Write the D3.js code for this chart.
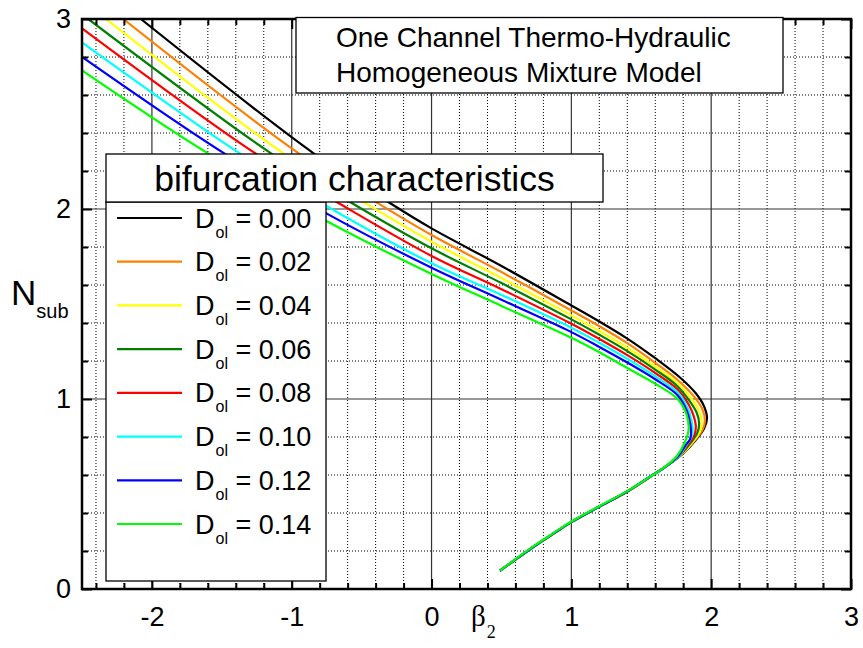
<!DOCTYPE html>
<html><head><meta charset="utf-8">
<script src="https://cdn.jsdelivr.net/npm/d3@7"></script>
<style>
body{margin:0;background:#fff;}
svg{display:block;font-family:"Liberation Sans",Arial,Helvetica,sans-serif;}
</style></head><body>
<svg id="chart" width="863" height="648"></svg>
<script>
// ---------- data ----------
const xTickValues = [-2, -1, 0, 1, 2, 3];
const yTickValues = [0, 1, 2, 3];
const xDomain = [-2.5, 3];
const yDomain = [0, 3];
const titleLines = ["One Channel Thermo-Hydraulic", "Homogeneous Mixture Model"];
const legendTitle = "bifurcation characteristics";
const dolLabels = ["0.00", "0.02", "0.04", "0.06", "0.08", "0.10", "0.12", "0.14"];
const seriesColors = ["#000000", "#ff8000", "#ffff00", "#008000", "#ff0000", "#00ffff", "#0000ff", "#00ff00"];

// [beta2, Nsub] points for each D_ol
const dol000 = [[-2.079,3.0],[-0.836,2.289],[-0.312,2.038],[0,1.898],[0.5,1.70],[1.0,1.492],[1.2,1.408],[1.4,1.318],[1.605,1.212],[1.771,1.117],[1.89,1.03],[1.95,0.96],[1.97,0.898],[1.95,0.846],[1.89,0.784],[1.80,0.714],[1.69,0.652],[1.58,0.598],[1.4,0.513],[1.2,0.433],[1.0,0.352],[0.88,0.295],[0.75,0.232],[0.62,0.165],[0.49,0.097]];
const dol002 = [[-2.205,3.0],[-0.943,2.289],[-0.40,2.038],[0,1.863],[0.5,1.668],[1.0,1.466],[1.2,1.383],[1.4,1.294],[1.6,1.19],[1.76,1.10],[1.875,1.015],[1.935,0.95],[1.955,0.89],[1.94,0.84],[1.88,0.78],[1.795,0.712],[1.685,0.65],[1.575,0.596],[1.4,0.513],[1.2,0.433],[1.0,0.352],[0.88,0.295],[0.75,0.232],[0.62,0.165],[0.49,0.097]];
const dol004 = [[-2.329,3.0],[-1.05,2.289],[-0.49,2.038],[0,1.828],[0.5,1.637],[1.0,1.440],[1.2,1.358],[1.4,1.270],[1.6,1.170],[1.755,1.085],[1.86,1.0],[1.915,0.935],[1.933,0.88],[1.92,0.83],[1.87,0.775],[1.79,0.71],[1.68,0.648],[1.572,0.595],[1.4,0.513],[1.2,0.433],[1.0,0.352],[0.88,0.295],[0.75,0.232],[0.62,0.165],[0.49,0.097]];
const dol006 = [[-2.455,3.0],[-1.14,2.289],[-0.586,2.038],[0,1.793],[0.5,1.61],[1.0,1.419],[1.2,1.338],[1.4,1.252],[1.6,1.155],[1.755,1.07],[1.85,0.985],[1.898,0.925],[1.914,0.87],[1.90,0.82],[1.855,0.77],[1.78,0.706],[1.68,0.647],[1.57,0.594],[1.4,0.513],[1.2,0.433],[1.0,0.352],[0.88,0.295],[0.75,0.232],[0.62,0.165],[0.49,0.097]];
const dol008 = [[-2.5,2.951],[-1.252,2.289],[-0.681,2.038],[0,1.753],[0.5,1.578],[1.0,1.396],[1.2,1.316],[1.4,1.231],[1.6,1.137],[1.76,1.05],[1.84,0.97],[1.875,0.91],[1.89,0.86],[1.88,0.81],[1.84,0.765],[1.775,0.703],[1.675,0.645],[1.568,0.593],[1.4,0.513],[1.2,0.434],[1.0,0.353],[0.88,0.296],[0.75,0.233],[0.62,0.166],[0.49,0.097]];
const dol010 = [[-2.5,2.877],[-1.364,2.289],[-0.752,2.016],[0,1.714],[0.5,1.548],[1.0,1.375],[1.2,1.296],[1.4,1.212],[1.6,1.12],[1.76,1.035],[1.83,0.955],[1.855,0.9],[1.867,0.85],[1.86,0.80],[1.825,0.76],[1.77,0.70],[1.673,0.643],[1.565,0.592],[1.4,0.514],[1.2,0.434],[1.0,0.353],[0.88,0.296],[0.75,0.233],[0.62,0.166],[0.49,0.097]];
const dol012 = [[-2.5,2.801],[-1.474,2.289],[-0.752,1.977],[0,1.691],[0.5,1.522],[1.0,1.352],[1.2,1.274],[1.4,1.192],[1.6,1.104],[1.76,1.02],[1.825,0.94],[1.845,0.89],[1.855,0.84],[1.85,0.79],[1.815,0.755],[1.765,0.70],[1.67,0.642],[1.563,0.592],[1.4,0.514],[1.2,0.434],[1.0,0.353],[0.88,0.296],[0.75,0.233],[0.62,0.166],[0.49,0.097]];
const dol014 = [[-2.5,2.730],[-1.59,2.289],[-0.752,1.937],[0,1.658],[0.5,1.49],[1.0,1.322],[1.2,1.246],[1.4,1.163],[1.6,1.08],[1.76,1.0],[1.825,0.915],[1.838,0.835],[1.81,0.77],[1.755,0.70],[1.665,0.64],[1.56,0.59],[1.4,0.515],[1.2,0.436],[1.0,0.355],[0.88,0.298],[0.75,0.235],[0.62,0.168],[0.49,0.097]];
const allSeries = [dol000, dol002, dol004, dol006, dol008, dol010, dol012, dol014];

// ---------- layout ----------
const L = 82, R = 851, T = 19, B = 589;
const svg = d3.select("#chart");
const x = d3.scaleLinear().domain(xDomain).range([L, R]);
const y = d3.scaleLinear().domain(yDomain).range([B, T]);

const xAll = d3.range(-24, 31, 2).map(v => +(v / 10).toFixed(1));
const yAll = d3.range(0, 31, 2).map(v => +(v / 10).toFixed(1));
const isInt = v => Math.abs(v - Math.round(v)) < 1e-9;
const xMinor = xAll.filter(v => !isInt(v));
const yMinor = yAll.filter(v => !isInt(v));
const xMajorInner = xTickValues.filter(v => v > xDomain[0] && v < xDomain[1]);
const yMajorInner = yTickValues.filter(v => v > yDomain[0] && v < yDomain[1]);

// ---------- grid ----------
const grid = svg.append("g");
grid.selectAll("line.vminor").data(xMinor).join("line")
  .attr("x1", d => x(d)).attr("x2", d => x(d)).attr("y1", T).attr("y2", B)
  .attr("stroke", "#000").attr("stroke-width", 1).attr("stroke-dasharray", "1,2");
grid.selectAll("line.hminor").data(yMinor).join("line")
  .attr("y1", d => y(d)).attr("y2", d => y(d)).attr("x1", L).attr("x2", R)
  .attr("stroke", "#000").attr("stroke-width", 1).attr("stroke-dasharray", "1,2");
grid.selectAll("line.vmajor").data(xMajorInner).join("line")
  .attr("x1", d => x(d)).attr("x2", d => x(d)).attr("y1", T).attr("y2", B)
  .attr("stroke", "#333").attr("stroke-width", 1.2);
grid.selectAll("line.hmajor").data(yMajorInner).join("line")
  .attr("y1", d => y(d)).attr("y2", d => y(d)).attr("x1", L).attr("x2", R)
  .attr("stroke", "#333").attr("stroke-width", 1.2);

// ---------- curves ----------
svg.append("clipPath").attr("id", "plotclip").append("rect")
  .attr("x", L).attr("y", T).attr("width", R - L).attr("height", B - T);
const line = d3.line().x(d => x(d[0])).y(d => y(d[1])).curve(d3.curveCatmullRom.alpha(0.5));
svg.append("g").attr("clip-path", "url(#plotclip)")
  .selectAll("path").data(allSeries).join("path")
  .attr("d", line).attr("fill", "none")
  .attr("stroke", (d, i) => seriesColors[i]).attr("stroke-width", 2.2)
  .attr("stroke-linejoin", "round");

// ---------- axes ----------
const fmt = d => String(d);
function styleAxis(g, size) {
  g.select(".domain").remove();
  g.attr("font-size", size).attr("font-family", null);
  g.selectAll(".tick line").attr("stroke", "#000").attr("stroke-width", 2);
  g.selectAll(".tick text").attr("fill", "#000");
}
const xMajAll = xTickValues;
svg.append("g").attr("transform", `translate(0,${B})`)
  .call(d3.axisBottom(x).tickValues(xMajAll).tickSize(-10).tickPadding(18).tickFormat(fmt))
  .call(g => styleAxis(g, 27));
svg.append("g").attr("transform", `translate(0,${B})`)
  .call(d3.axisBottom(x).tickValues(xMinor).tickSize(-6).tickFormat(""))
  .call(g => styleAxis(g, 10));
svg.append("g").attr("transform", `translate(0,${T})`)
  .call(d3.axisTop(x).tickValues(xMajAll).tickSize(-10).tickFormat(""))
  .call(g => styleAxis(g, 10));
svg.append("g").attr("transform", `translate(0,${T})`)
  .call(d3.axisTop(x).tickValues(xMinor).tickSize(-6).tickFormat(""))
  .call(g => styleAxis(g, 10));
svg.append("g").attr("transform", `translate(${L},0)`)
  .call(d3.axisLeft(y).tickValues(yTickValues).tickSize(-10).tickPadding(11).tickFormat(fmt))
  .call(g => styleAxis(g, 27));
svg.append("g").attr("transform", `translate(${L},0)`)
  .call(d3.axisLeft(y).tickValues(yMinor).tickSize(-6).tickFormat(""))
  .call(g => styleAxis(g, 10));
svg.append("g").attr("transform", `translate(${R},0)`)
  .call(d3.axisRight(y).tickValues(yTickValues).tickSize(-10).tickFormat(""))
  .call(g => styleAxis(g, 10));
svg.append("g").attr("transform", `translate(${R},0)`)
  .call(d3.axisRight(y).tickValues(yMinor).tickSize(-6).tickFormat(""))
  .call(g => styleAxis(g, 10));

// frame
svg.append("rect").attr("x", L).attr("y", T).attr("width", R - L).attr("height", B - T)
  .attr("fill", "none").attr("stroke", "#000").attr("stroke-width", 2.5);

// axis titles
const xt = svg.append("text").attr("x", 471).attr("y", 626)
  .attr("font-family", "'Liberation Serif','Times New Roman',serif").attr("font-size", 29).attr("fill", "#000");
xt.append("tspan").text("β");
xt.append("tspan").attr("font-size", 18).attr("dy", 12).attr("dx", 1).text("2");

const yt = svg.append("text").attr("x", 11).attr("y", 305).attr("font-size", 35).attr("fill", "#000");
yt.append("tspan").text("N");
yt.append("tspan").attr("font-size", 20).attr("dy", 13).attr("dx", 0).text("sub");

// ---------- legend ----------
const lg = svg.append("g");
lg.append("rect").attr("x", 106).attr("y", 202).attr("width", 220).attr("height", 379)
  .attr("fill", "#fff").attr("stroke", "#000").attr("stroke-width", 1.3);
lg.append("rect").attr("x", 106).attr("y", 154).attr("width", 497).attr("height", 48)
  .attr("fill", "#fff").attr("stroke", "#000").attr("stroke-width", 1.3);
lg.append("text").attr("x", 354.5).attr("y", 191).attr("text-anchor", "middle")
  .attr("font-size", 35.5).attr("fill", "#000").text(legendTitle);
const rowY = d3.scaleLinear().domain([0, 7]).range([218, 524]);
const rows = lg.selectAll("g.row").data(dolLabels).join("g");
rows.append("line").attr("x1", 117).attr("x2", 182)
  .attr("y1", (d, i) => rowY(i)).attr("y2", (d, i) => rowY(i))
  .attr("stroke", (d, i) => seriesColors[i]).attr("stroke-width", 2.2);
const rt = rows.append("text").attr("x", 195).attr("y", (d, i) => rowY(i) + 9.5)
  .attr("font-size", 27).attr("fill", "#000");
rt.append("tspan").text("D");
rt.append("tspan").attr("font-size", 16).attr("dy", 10).attr("dx", 1).text("ol");
rt.append("tspan").attr("dy", -10).text(d => " = " + d);

// ---------- title box ----------
const tb = svg.append("g");
tb.append("rect").attr("x", 296).attr("y", 17.5).attr("width", 487).attr("height", 75.5)
  .attr("fill", "#fff").attr("stroke", "#000").attr("stroke-width", 1.3);
tb.selectAll("text").data(titleLines).join("text")
  .attr("x", 336).attr("y", (d, i) => 47 + i * 35)
  .attr("font-size", 28).attr("fill", "#000").text(d => d);
</script>
</body></html>
